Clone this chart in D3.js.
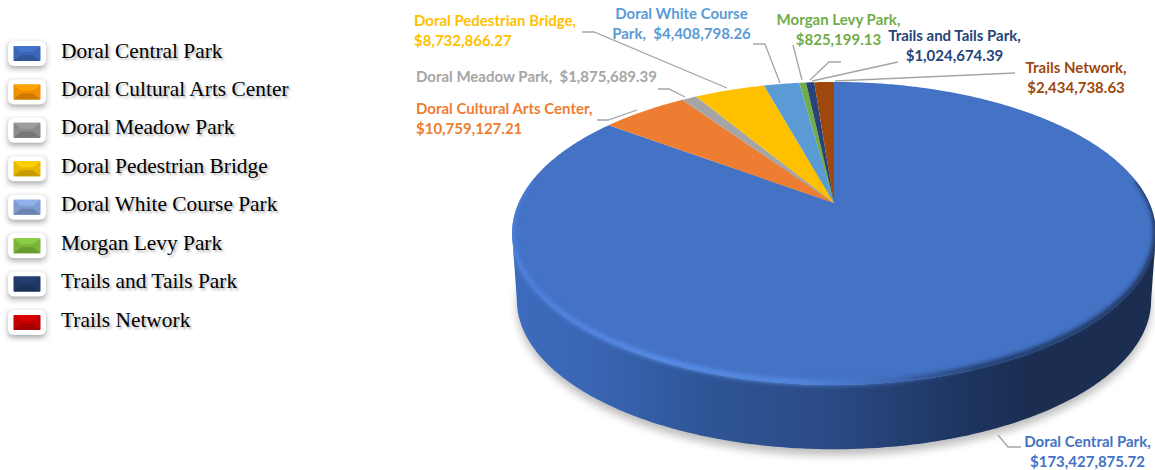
<!DOCTYPE html>
<html>
<head>
<meta charset="utf-8">
<script src="https://d3js.org/d3.v7.min.js"></script>
<style>
  html, body { margin: 0; padding: 0; background: #fff; }
  svg { display: block; }
  .legend-text { font-family: "Liberation Serif", serif; font-size: 21.4px; fill: #000; text-shadow: 2px 2px 2.5px rgba(0,0,0,.3); }
  .label { font-family: Lato, sans-serif; font-weight: 700; font-size: 15px; }
</style>
</head>
<body>
<svg id="chart" width="1155" height="470"></svg>
<script>
// data
const categories = ["Doral Central Park", "Doral Cultural Arts Center", "Doral Meadow Park", "Doral Pedestrian Bridge",
  "Doral White Course Park", "Morgan Levy Park", "Trails and Tails Park", "Trails Network"];
const amounts = [173427875.72, 10759127.21, 1875689.39, 8732866.27, 4408798.26, 825199.13, 1024674.39, 2434738.63];
const sliceColors = ["#4472C4", "#ED7D31", "#A5A5A5", "#FFC000", "#5B9BD5", "#70AD47", "#264478", "#9E480E"];
const keyColors = ["#3A66B5", "#F09000", "#8C8A8A", "#E8B800", "#7F9BD0", "#7AB63A", "#1F3864", "#C00000"];

// layout: where each data label sits [anchor x, first baseline, anchor]
const labelPos = [[1087.5, 447, "middle"], [416, 114, "start"], [416, 82, "start"], [414, 26, "start"],
  [681.5, 19, "middle"], [838.5, 25, "middle"], [954.5, 41, "middle"], [1076, 73, "middle"]];
const lineGap = 19.5;
const leaders = [
  [[1021, 447], [1008, 447], [998, 435]],
  [[597, 120], [608, 120], [637, 110]],
  [[658, 89], [669, 89], [685, 97]],
  [[582, 32], [594, 32], [727, 88]],
  [[753, 44], [765, 44], [780, 83]],
  [[793, 45], [802, 80]],
  [[898, 62], [812, 81]],
  [[1015, 73], [835, 81]],
  [[841, 62], [829, 62], [810, 80]]
];

const money = d3.format("$,.2f");
function labelLines(i) {
  const n = categories[i], m = money(amounts[i]);
  if (i === 2) return [n + ",  " + m];
  if (i === 4) return ["Doral White Course", "Park,  " + m];
  return [n + ",", m];
}

const svg = d3.select("#chart");
const defs = svg.append("defs");

// perspective disc: apex is the projected centre, far edge shrinks
const apex = { x: 834, y: 203 }, rimA = 315.4, rimB = 145.4, persp = 0.201;
const depth = { dy: 67, scale: 0.985 };

function rim(t, lower) {
  const w = 1 + persp * Math.cos(t);
  const s = lower ? depth.scale : 1;
  return [apex.x + s * rimA * Math.sin(t) / w,
          apex.y + (lower ? depth.dy : 0) - s * rimB * Math.cos(t) / w];
}
function sampled(a0, a1, lower) {
  const n = Math.max(2, Math.ceil(Math.abs(a1 - a0) / 0.01));
  return d3.range(n + 1).map((i) => rim(a0 + (a1 - a0) * i / n, lower));
}
const line = d3.line();

const blur = (id, sd) => defs.append("filter").attr("id", id)
  .attr("x", "-20%").attr("y", "-20%").attr("width", "140%").attr("height", "140%")
  .append("feGaussianBlur").attr("stdDeviation", sd);
blur("soft", 4);
blur("rimblur", 2.2);
blur("keyshadow", 3);

const xGrad = (id, stops) => {
  const g = defs.append("linearGradient").attr("id", id).attr("gradientUnits", "userSpaceOnUse")
    .attr("x1", 512).attr("x2", 1155).attr("y1", 0).attr("y2", 0);
  stops.forEach((s) => g.append("stop").attr("offset", s[0]).attr("stop-color", s[1]));
};
xGrad("sideFill", [[0, "#3C6BBD"], [0.12, "#3A66B5"], [0.3, "#2F5597"], [0.5, "#2A4A84"], [0.68, "#1F3764"], [0.8, "#1B2E52"], [1, "#1B2E52"]]);
xGrad("rimFill", [[0, "#4C80DC"], [0.25, "#5A92EE"], [0.45, "#558AE2"], [0.58, "#3E6AB6"], [0.72, "#1F3662"], [1, "#1B2E52"]]);

// front arc of the disc, from right tangent round to left tangent
const tR = Math.acos(-persp), tL = 2 * Math.PI - tR;
const sidePath = line(sampled(tR, tL, false).concat(sampled(tL, tR, true))) + "Z";

// the bevel must stay on the disc
const discClip = defs.append("clipPath").attr("id", "discClip");
discClip.append("path").attr("d", sidePath);
discClip.append("path").attr("d", line(sampled(0, 2 * Math.PI, false)) + "Z");

// ground shadow
svg.append("path")
  .attr("d", line(sampled(0, 2 * Math.PI, true)) + "Z")
  .attr("transform", "translate(0,6)")
  .attr("fill", "#000").attr("opacity", 0.26).attr("filter", "url(#soft)");

// side wall
svg.append("path").attr("d", sidePath).attr("fill", "url(#sideFill)");

// top slices
const pie = d3.pie().sort(null).value((d) => d).startAngle(0).endAngle(2 * Math.PI);
svg.append("g").selectAll("path").data(pie(amounts)).join("path")
  .attr("d", (d) => line([[apex.x, apex.y]].concat(sampled(d.startAngle, d.endAngle, false))) + "Z")
  .attr("fill", (d, i) => sliceColors[i]);

// bevel along the front rim
svg.append("g").attr("clip-path", "url(#discClip)").append("path")
  .attr("d", line(sampled(tR - 0.35, tL + 0.35, false)))
  .attr("transform", "translate(0,-2)")
  .attr("fill", "none").attr("stroke", "url(#rimFill)").attr("stroke-width", 5)
  .attr("filter", "url(#rimblur)");

// leader lines
svg.append("g").selectAll("path").data(leaders).join("path")
  .attr("d", (d) => line(d)).attr("fill", "none").attr("stroke", "#A5A5A5").attr("stroke-width", 1.3);

// data labels
const labels = svg.append("g").selectAll("text").data(categories).join("text")
  .attr("class", "label")
  .attr("text-anchor", (d, i) => labelPos[i][2])
  .attr("fill", (d, i) => sliceColors[i]);
labels.each(function (d, i) {
  d3.select(this).selectAll("tspan").data(labelLines(i)).join("tspan")
    .style("white-space", "pre")
    .attr("x", labelPos[i][0])
    .attr("y", (l, j) => labelPos[i][1] + j * lineGap)
    .text((l) => l);
});

// legend
const legendY = d3.scalePoint().domain(categories).range([51, 320]);
const key = svg.append("g").selectAll("g").data(categories).join("g")
  .attr("transform", (d) => `translate(0,${legendY(d)})`);
key.append("rect").attr("x", 9).attr("y", -7).attr("width", 36).attr("height", 24)
  .attr("fill", "#000").attr("opacity", 0.4).attr("filter", "url(#keyshadow)");
key.append("rect").attr("x", 8).attr("y", -10).attr("width", 38).attr("height", 25).attr("rx", 6).attr("fill", "#fff");
key.append("rect").attr("x", 13.5).attr("y", -5).attr("width", 27).attr("height", 15).attr("rx", 1)
  .attr("fill", (d, i) => keyColors[i]);
key.append("path").attr("d", "M13.5-5H40.5L33,1H21Z")
  .attr("fill", (d, i) => d3.color(keyColors[i]).brighter(0.35));
key.append("path").attr("d", "M13.5,10H40.5L33,4H21Z")
  .attr("fill", (d, i) => d3.color(keyColors[i]).darker(0.45));
key.append("text").attr("class", "legend-text").attr("x", 61).attr("y", 6.5).text((d) => d);
</script>
</body>
</html>
